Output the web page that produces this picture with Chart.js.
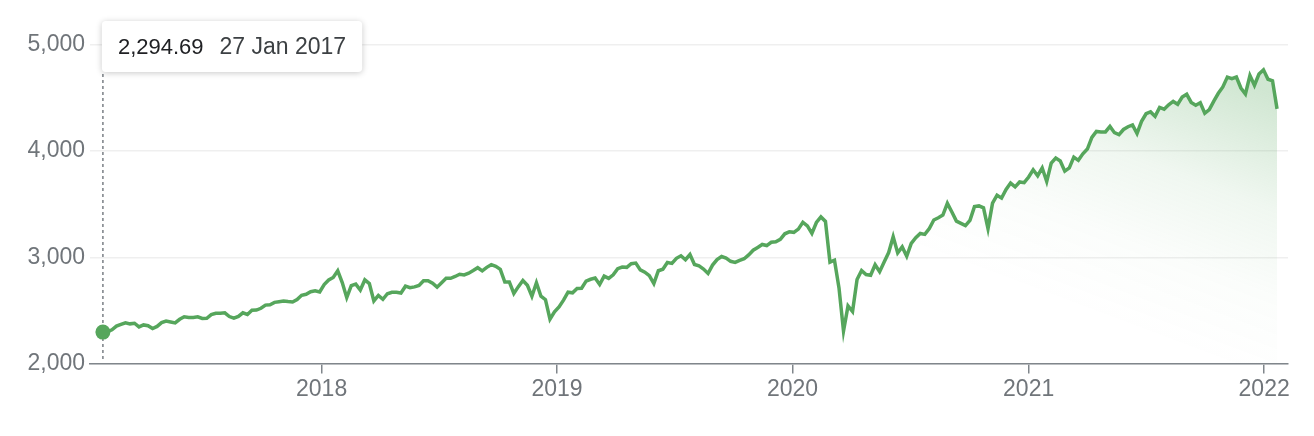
<!DOCTYPE html>
<html>
<head>
<meta charset="utf-8">
<script src="https://cdn.jsdelivr.net/npm/chart.js@4.4.1/dist/chart.umd.min.js"></script>
<style>
  html, body { margin: 0; padding: 0; background: #fff; }
  #wrap { width: 1314px; height: 436px; position: relative; }
</style>
</head>
<body>
<div id="wrap"><canvas id="priceChart"></canvas></div>
<script>
// weekly closes, first week ends 27 Jan 2017
const firstWeek = '2017-01-27';

const close2017 = [2294.69, 2297.42, 2316.10, 2351.16, 2367.34, 2383.12, 2372.60, 2378.25, 2343.98, 2362.72,
  2355.54, 2328.95, 2348.69, 2384.20, 2399.29, 2390.90, 2381.73, 2415.82, 2439.07, 2431.77,
  2433.15, 2438.30, 2423.41, 2425.18, 2459.27, 2472.54, 2472.10, 2476.83, 2441.32, 2425.55,
  2443.05, 2476.55, 2461.43, 2500.23, 2502.22, 2519.36, 2549.33, 2553.17, 2575.21, 2581.07,
  2587.84, 2582.30, 2578.85, 2602.42, 2642.22, 2651.50, 2675.81, 2683.34, 2673.61];

const close2018 = [2743.15, 2786.24, 2810.30, 2872.87, 2762.13, 2619.55, 2732.22, 2747.30, 2691.25, 2786.57,
  2752.01, 2588.26, 2640.87, 2604.47, 2656.30, 2670.14, 2669.91, 2663.42, 2727.72, 2712.97,
  2721.33, 2734.62, 2779.03, 2779.66, 2754.88, 2718.37, 2759.82, 2801.31, 2801.83, 2818.82,
  2840.35, 2833.28, 2850.13, 2874.69, 2901.52, 2871.68, 2904.98, 2929.67, 2913.98, 2885.57,
  2767.13, 2767.78, 2658.69, 2723.06, 2781.01, 2736.27, 2632.56, 2760.17, 2633.08, 2599.95,
  2416.62, 2485.74];

const close2019 = [2531.94, 2596.26, 2670.71, 2664.76, 2706.53, 2707.88, 2775.60, 2792.67, 2803.69, 2743.07,
  2822.48, 2800.71, 2834.40, 2892.74, 2907.41, 2905.03, 2939.88, 2945.64, 2881.40, 2859.53,
  2826.06, 2752.06, 2873.34, 2886.98, 2950.46, 2941.76, 2990.41, 3013.77, 2976.61, 3025.86,
  2932.05, 2918.65, 2888.68, 2847.11, 2926.46, 2978.71, 3007.39, 2992.07, 2961.79, 2952.01,
  2970.27, 2986.20, 3022.55, 3066.91, 3093.08, 3120.46, 3110.29, 3140.98, 3145.91, 3168.80,
  3221.22, 3240.02];

const close2020 = [3234.85, 3265.35, 3329.62, 3295.47, 3225.52, 3327.71, 3380.16, 3337.75, 2954.22, 2972.37,
  2711.02, 2304.92, 2541.47, 2488.65, 2789.82, 2874.56, 2836.74, 2830.71, 2929.80, 2863.70,
  2955.45, 3044.31, 3193.93, 3041.31, 3097.74, 3009.05, 3130.01, 3185.04, 3224.73, 3215.63,
  3271.12, 3351.28, 3372.85, 3397.16, 3508.01, 3426.96, 3340.97, 3319.47, 3298.46, 3348.44,
  3477.13, 3483.81, 3465.39, 3269.96, 3509.44, 3585.15, 3557.54, 3638.35, 3699.12, 3663.46,
  3709.41, 3703.06, 3756.07];

const close2021 = [3824.68, 3768.25, 3841.47, 3714.24, 3886.83, 3934.83, 3906.71, 3811.15, 3841.94, 3943.34,
  3913.10, 3974.54, 4019.87, 4128.80, 4185.47, 4180.17, 4181.17, 4232.60, 4173.85, 4155.86,
  4204.11, 4229.89, 4247.44, 4166.45, 4280.70, 4352.34, 4369.55, 4327.16, 4411.79, 4395.26,
  4436.52, 4468.00, 4441.67, 4509.37, 4535.43, 4458.58, 4432.99, 4455.48, 4357.04, 4391.34,
  4471.37, 4544.90, 4605.38, 4697.53, 4682.85, 4697.96, 4594.62, 4538.43, 4712.02, 4620.64,
  4725.79, 4766.18];

const close2022 = [4677.03, 4662.85, 4397.94];

const yearTicks = [2018, 2019, 2020, 2021, 2022];
const yTicks = [2000, 3000, 4000, 5000];
const tipValue = '2,294.69';
const tipDate = '27 Jan 2017';

const closes = [].concat(close2017, close2018, close2019, close2020, close2021, close2022);

const DAY = 86400000;
const startDay = Date.parse(firstWeek + 'T00:00:00Z') / DAY;
const points = closes.map((v, i) => ({ x: startDay + i * 7, y: v }));
const lastDay = points[points.length - 1].x;
const yearDay = yr => Date.UTC(yr, 0, 1) / DAY;

const GREEN = 'rgb(86, 166, 92)';
const FONT = '"Liberation Sans", Arial, Helvetica, sans-serif';

// dashed guide + tooltip box for the first point
const firstPointTip = {
  id: 'firstPointTip',
  beforeDatasetsDraw(chart) {
    const pt = chart.getDatasetMeta(0).data[0];
    const ctx = chart.ctx;
    ctx.save();
    ctx.strokeStyle = '#7a7f85';
    ctx.lineWidth = 1.5;
    ctx.setLineDash([3, 3]);
    ctx.beginPath();
    ctx.moveTo(pt.x, 74);
    ctx.lineTo(pt.x, chart.chartArea.bottom - 4);
    ctx.stroke();
    ctx.restore();
  },
  afterDraw(chart) {
    const pt = chart.getDatasetMeta(0).data[0];
    const ctx = chart.ctx;
    ctx.save();
    const f1 = '22px ' + FONT, f2 = '23px ' + FONT;
    ctx.font = f1;
    const w1 = ctx.measureText(tipValue).width;
    ctx.font = f2;
    const w2 = ctx.measureText(tipDate).width;
    const pad = 16, gap = 16;
    const bx = pt.x - 1, by = 21, bw = pad + w1 + gap + w2 + pad, bh = 51;
    ctx.shadowColor = 'rgba(0,0,0,0.22)';
    ctx.shadowBlur = 6;
    ctx.shadowOffsetY = 1;
    ctx.fillStyle = '#fff';
    ctx.beginPath();
    ctx.roundRect(bx, by, bw, bh, 4);
    ctx.fill();
    ctx.shadowColor = 'transparent';
    ctx.textBaseline = 'middle';
    ctx.font = f1;
    ctx.fillStyle = '#202124';
    ctx.fillText(tipValue, bx + pad, by + bh / 2 + 1);
    ctx.font = f2;
    ctx.fillStyle = '#3c4043';
    ctx.fillText(tipDate, bx + pad + w1 + gap, by + bh / 2 + 1);
    ctx.restore();
  }
};

new Chart(document.getElementById('priceChart'), {
  type: 'line',
  data: {
    datasets: [{
      data: points,
      borderColor: GREEN,
      borderWidth: 3.5,
      tension: 0,
      pointRadius: ctx => ctx.dataIndex === 0 ? 7.5 : 0,
      pointBackgroundColor: GREEN,
      pointBorderWidth: 0,
      fill: 'start',
      backgroundColor: ctx => {
        const a = ctx.chart.chartArea;
        if (!a) return 'transparent';
        const g = ctx.chart.ctx.createLinearGradient(
          a.left + 0.8 * (a.right - a.left), a.top + 0.8 * (a.bottom - a.top),
          a.left + 0.88 * (a.right - a.left), a.top);
        g.addColorStop(0, 'rgba(86, 166, 92, 0)');
        g.addColorStop(0.3, 'rgba(86, 166, 92, 0.025)');
        g.addColorStop(0.6, 'rgba(86, 166, 92, 0.09)');
        g.addColorStop(1, 'rgba(86, 166, 92, 0.28)');
        return g;
      }
    }]
  },
  options: {
    responsive: true,
    maintainAspectRatio: false,
    animation: false,
    events: [],
    layout: { padding: { left: 0, right: 26, top: 45, bottom: 31 } },
    plugins: {
      legend: { display: false },
      tooltip: { enabled: false }
    },
    scales: {
      x: {
        type: 'linear',
        min: startDay - 20,
        max: lastDay + 17,
        afterBuildTicks: scale => { scale.ticks = yearTicks.map(yr => ({ value: yearDay(yr) })); },
        ticks: {
          callback: v => String(new Date(v * DAY).getUTCFullYear()),
          color: '#70757a',
          font: { family: FONT, size: 23 },
          padding: 2,
          maxRotation: 0
        },
        grid: { drawOnChartArea: false, tickLength: 10, color: '#80868b', lineWidth: 1.5 },
        border: { color: '#80868b', width: 1.5 }
      },
      y: {
        min: 2000,
        max: 5000,
        afterBuildTicks: scale => { scale.ticks = yTicks.map(v => ({ value: v })); },
        afterFit: scale => { scale.width = 90; },
        ticks: {
          callback: v => v.toLocaleString('en-US'),
          color: '#70757a',
          font: { family: FONT, size: 23 },
          padding: 5
        },
        grid: { color: '#efefef', lineWidth: 1.5, drawTicks: false },
        border: { display: false }
      }
    }
  },
  plugins: [firstPointTip]
});
</script>
</body>
</html>
